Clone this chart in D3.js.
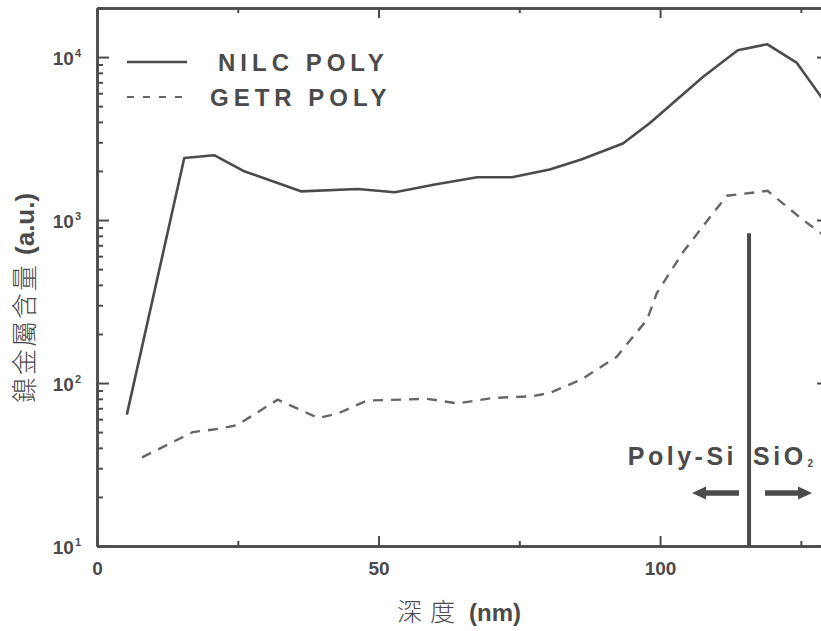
<!DOCTYPE html>
<html>
<head>
<meta charset="utf-8">
<script src="https://cdn.jsdelivr.net/npm/d3@7/dist/d3.min.js"></script>
<style>
  html, body { margin: 0; padding: 0; background: #fff; }
  svg { display: block; overflow: hidden; }
</style>
</head>
<body>
<svg id="chart" width="821" height="631"></svg>
<script>
// ---- data ----
const nilcDepth = [5.3, 15.5, 20.8, 26, 36.2, 46.3, 52.9, 60, 67.5, 73.7, 80.4, 86, 93.4, 98.2, 107.6, 113.8, 119, 124.3, 128.6, 130];
const nilcValue = [64, 2400, 2500, 2000, 1500, 1550, 1480, 1650, 1830, 1830, 2040, 2350, 2950, 3940, 7540, 11000, 12000, 9200, 5700, 4900];
const getrDepth = [8, 17, 21, 24.8, 32.1, 39.3, 42.8, 47.9, 58.6, 64, 70.3, 77.4, 80.4, 86, 92.3, 97.7, 99.4, 104, 109.4, 111.9, 119.1, 125.4, 128.6, 130];
const getrValue = [35, 50, 52, 55, 79, 61, 65, 78, 80, 75, 81, 83, 87, 105, 145, 245, 355, 630, 1100, 1410, 1510, 1000, 830, 770];
const seriesNames = ["NILC POLY", "GETR POLY"];
const xMajorTicks = [0, 50, 100];
const xMinorTicks = [25, 75, 125];
const yMajorTicks = [10, 100, 1000, 10000];
const boundaryDepth = 115.8;
const boundaryTop = 830;
const xTitleCJK = "深度";
const xTitleUnit = "(nm)";
const yTitleCJK = "鎳金屬含量";
const yTitleUnit = "(a.u.)";

// ---- layout ----
const L = 97, T = 8, R = 829, B = 546;
const ink = "#4b4b4b";
const svg = d3.select("#chart");

const x = d3.scaleLinear().domain([0, 130]).range([L, R]);
const y = d3.scaleLog().domain([10, 20000]).range([B, T]);

const yMinorTicks = [];
[10, 100, 1000, 10000].forEach(p => { for (let k = 2; k <= 9; k++) { const v = p * k; if (v <= 20000) yMinorTicks.push(v); } });

function styleAxis(g) {
  g.select(".domain").attr("stroke", ink).attr("stroke-width", 2.5);
  g.selectAll(".tick line").attr("stroke", ink).attr("stroke-width", 2);
}

// bottom axis
svg.append("g").attr("transform", `translate(0,${B})`)
  .call(d3.axisBottom(x).tickValues(xMinorTicks).tickSizeInner(-5).tickSizeOuter(0).tickFormat(""))
  .call(styleAxis);
const gxb = svg.append("g").attr("transform", `translate(0,${B})`)
  .call(d3.axisBottom(x).tickValues(xMajorTicks).tickSizeInner(-10).tickSizeOuter(0).tickPadding(16).tickFormat(d3.format("d")))
  .call(styleAxis);
gxb.selectAll(".tick text").attr("fill", ink).attr("font-family", "Liberation Sans, Arial, sans-serif")
  .attr("font-weight", "bold").attr("font-size", 19);

// top axis
svg.append("g").attr("transform", `translate(0,${T})`)
  .call(d3.axisTop(x).tickValues(xMinorTicks).tickSizeInner(-5).tickSizeOuter(0).tickFormat(""))
  .call(styleAxis);
svg.append("g").attr("transform", `translate(0,${T})`)
  .call(d3.axisTop(x).tickValues(xMajorTicks).tickSizeInner(-10).tickSizeOuter(0).tickFormat(""))
  .call(styleAxis);

// left axis
svg.append("g").attr("transform", `translate(${L},0)`)
  .call(d3.axisLeft(y).tickValues(yMinorTicks).tickSizeInner(-6).tickSizeOuter(0).tickFormat(""))
  .call(styleAxis);
const gyl = svg.append("g").attr("transform", `translate(${L},0)`)
  .call(d3.axisLeft(y).tickValues(yMajorTicks).tickSizeInner(-12).tickSizeOuter(0).tickPadding(16).tickFormat(""))
  .call(styleAxis);
gyl.selectAll(".tick text").each(function(d) {
  const t = d3.select(this).attr("fill", ink).attr("font-family", "Liberation Sans, Arial, sans-serif")
    .attr("font-weight", "bold").attr("font-size", 19).attr("dy", "0.4em");
  t.append("tspan").text("10");
  t.append("tspan").attr("dy", -8).attr("dx", 1).attr("font-size", 11).text(Math.round(Math.log10(d)));
});

// right axis
svg.append("g").attr("transform", `translate(${R},0)`)
  .call(d3.axisRight(y).tickValues(yMinorTicks).tickSizeInner(-6).tickSizeOuter(0).tickFormat(""))
  .call(styleAxis);
svg.append("g").attr("transform", `translate(${R},0)`)
  .call(d3.axisRight(y).tickValues(yMajorTicks).tickSizeInner(-12).tickSizeOuter(0).tickFormat(""))
  .call(styleAxis);

// lines
const line = d3.line().x(d => x(d[0])).y(d => y(d[1]));
const nilc = nilcDepth.map((d, i) => [d, nilcValue[i]]);
const getr = getrDepth.map((d, i) => [d, getrValue[i]]);

svg.append("defs").append("clipPath").attr("id", "clip")
  .append("rect").attr("x", L).attr("y", T).attr("width", R - L).attr("height", B - T);

const plot = svg.append("g").attr("clip-path", "url(#clip)");
plot.append("path").datum(nilc).attr("d", line).attr("fill", "none")
  .attr("stroke", ink).attr("stroke-width", 2.6).attr("stroke-linejoin", "round");
plot.append("path").datum(getr).attr("d", line).attr("fill", "none")
  .attr("stroke", "#666").attr("stroke-width", 2.4).attr("stroke-dasharray", "10,8");

// boundary line
const bx = x(boundaryDepth);
plot.append("line").attr("x1", bx).attr("x2", bx).attr("y1", y(boundaryTop)).attr("y2", B)
  .attr("stroke", ink).attr("stroke-width", 4);

// arrows
const ay = 493;
function arrow(tail, tip) {
  const dir = Math.sign(tip - tail);
  const hb = tip - dir * 14;
  return `M${tail},${ay - 2.8}L${hb},${ay - 2.8}L${hb},${ay - 6.5}L${tip},${ay}L${hb},${ay + 6.5}L${hb},${ay + 2.8}L${tail},${ay + 2.8}Z`;
}
svg.append("path").attr("d", arrow(bx - 10, bx - 57)).attr("fill", ink);
svg.append("path").attr("d", arrow(bx + 16, bx + 63)).attr("fill", ink);

const boldFont = "Liberation Sans, Arial, sans-serif";
svg.append("text").attr("x", bx - 12).attr("y", 465).attr("text-anchor", "end")
  .attr("font-family", boldFont).attr("font-weight", "bold").attr("font-size", 25)
  .attr("letter-spacing", 3.5).attr("fill", ink).text("Poly-Si");
const sio = svg.append("text").attr("x", bx + 4).attr("y", 465)
  .attr("font-family", boldFont).attr("font-weight", "bold").attr("font-size", 25)
  .attr("letter-spacing", 3.5).attr("fill", ink).text("SiO");
const sioW = sio.node().getComputedTextLength();
svg.append("text").attr("x", bx + 4 + sioW + 1).attr("y", 467)
  .attr("font-family", boldFont).attr("font-weight", "bold").attr("font-size", 10)
  .attr("fill", ink).text("2");

// legend
const legY = [62, 97];
const legX = [218, 210];
svg.append("line").attr("x1", 127).attr("x2", 187).attr("y1", legY[0]).attr("y2", legY[0])
  .attr("stroke", ink).attr("stroke-width", 2.6);
svg.append("line").attr("x1", 127).attr("x2", 187).attr("y1", legY[1]).attr("y2", legY[1])
  .attr("stroke", "#666").attr("stroke-width", 2).attr("stroke-dasharray", "7,9");
seriesNames.forEach((n, i) => {
  svg.append("text").attr("x", legX[i]).attr("y", legY[i] + 8.5)
    .attr("font-family", boldFont).attr("font-weight", "bold").attr("font-size", 24)
    .attr("letter-spacing", 5).attr("fill", ink).text(n);
});

// axis titles
const xt = svg.append("text").attr("x", 397).attr("y", 621).attr("fill", ink);
xt.append("tspan").attr("font-family", "Noto Sans CJK TC, Noto Sans CJK SC, sans-serif")
  .attr("font-weight", 300).attr("font-size", 25).attr("letter-spacing", 8).text(xTitleCJK);
xt.append("tspan").attr("dx", 6).attr("font-family", boldFont).attr("font-weight", "bold").attr("font-size", 24).text(xTitleUnit);

const yt = svg.append("text").attr("transform", "translate(34,403) rotate(-90)").attr("fill", ink);
yt.append("tspan").attr("font-family", "Noto Sans CJK TC, Noto Sans CJK SC, sans-serif")
  .attr("font-weight", 300).attr("font-size", 26).attr("letter-spacing", 2).text(yTitleCJK);
yt.append("tspan").attr("dx", 8).attr("font-family", boldFont).attr("font-weight", "bold").attr("font-size", 26).text(yTitleUnit);
</script>
</body>
</html>
